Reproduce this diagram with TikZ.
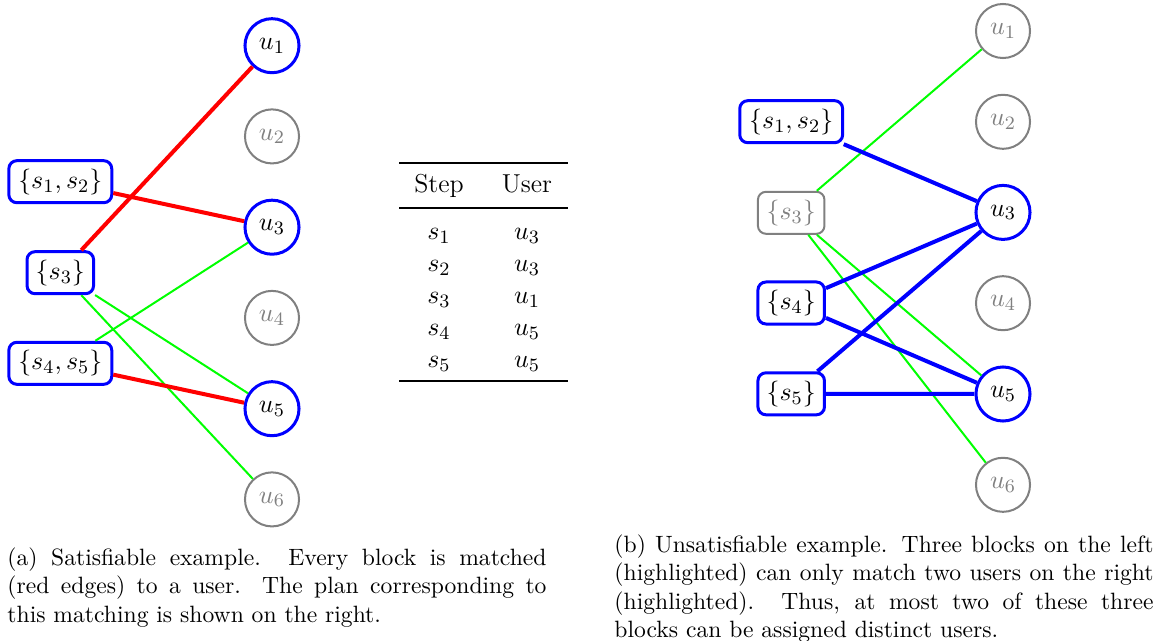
\documentclass[tikz,border=0pt]{standalone}
\newcommand\fgfont{\fontsize{11}{13}\selectfont}
\newcommand\capfont{\fontsize{10}{12}\selectfont}
\tikzset{
  ublue/.style={circle, draw=blue, line width=1.27pt, minimum size=22.9pt, inner sep=0pt, font=\fgfont},
  ugray/.style={circle, draw=gray, text=gray, line width=0.85pt, minimum size=22.9pt, inner sep=0pt, font=\fgfont},
  bblue/.style={rectangle, rounded corners=3.4pt, draw=blue, line width=1.27pt, minimum height=17.8pt, inner sep=0pt, font=\fgfont},
  bgray/.style={rectangle, rounded corners=3.4pt, draw=gray, text=gray, line width=0.85pt, minimum height=17.8pt, inner sep=0pt, font=\fgfont},
  widebox/.style={minimum width=43.6pt},
  narrowbox/.style={minimum width=28.2pt},
  matchedge/.style={draw=red, line width=1.7pt},
  halledge/.style={draw=blue, line width=1.7pt},
  otheredge/.style={draw=green, line width=0.85pt},
  cell/.style={anchor=base, inner sep=0pt, font=\fgfont},
  toprule/.style={line width=1.2pt},
  midrule/.style={line width=0.8pt},
  captext/.style={anchor=north west, inner sep=0pt, text width=228.4pt, align=justify, font=\capfont},
}
\begin{document}
\begin{tikzpicture}[x=0.4237pt, y=-0.4237pt]
\path[use as bounding box] (0,0) rectangle (1162,641);

% ---------- panel (a) ----------
\node[ublue] (ua1) at (272,45.7) {$u_1$};
\node[ugray] (ua2) at (272,136.4) {$u_2$};
\node[ublue] (ua3) at (272,227.2) {$u_3$};
\node[ugray] (ua4) at (272,317.9) {$u_4$};
\node[ublue] (ua5) at (272,408.7) {$u_5$};
\node[ugray] (ua6) at (272,499.4) {$u_6$};

\node[bblue, widebox] (sa12) at (60.3,181.7) {$\{s_1, s_2\}$};
\node[bblue, narrowbox] (sa3) at (60.3,272.7) {$\{s_3\}$};
\node[bblue, widebox] (sa45) at (60.3,363.3) {$\{s_4, s_5\}$};

\draw[otheredge] (sa3) -- (ua5);
\draw[otheredge] (sa3) -- (ua6);
\draw[otheredge] (sa45) -- (ua3);
\draw[matchedge] (sa3) -- (ua1);
\draw[matchedge] (sa12) -- (ua3);
\draw[matchedge] (sa45) -- (ua5);

% ---------- table ----------
\coordinate (tl) at (399,163);
\coordinate (tr) at (568,163);
\coordinate (ml) at (399,208);
\coordinate (mr) at (568,208);
\coordinate (bl) at (399,381);
\coordinate (br) at (568,381);
\draw[toprule] (tl) -- (tr);
\draw[midrule] (ml) -- (mr);
\draw[toprule] (bl) -- (br);
\node[cell] (hstep) at (439,193) {Step};
\node[cell] (huser) at (527,193) {User};
\node[cell] (r1a) at (439,239.5) {$s_1$};
\node[cell] (r1b) at (527,239.5) {$u_3$};
\node[cell] (r2a) at (439,271.6) {$s_2$};
\node[cell] (r2b) at (527,271.6) {$u_3$};
\node[cell] (r3a) at (439,303.7) {$s_3$};
\node[cell] (r3b) at (527,303.7) {$u_1$};
\node[cell] (r4a) at (439,335.8) {$s_4$};
\node[cell] (r4b) at (527,335.8) {$u_5$};
\node[cell] (r5a) at (439,367.9) {$s_5$};
\node[cell] (r5b) at (527,367.9) {$u_5$};

% ---------- panel (b) ----------
\node[ugray] (ub1) at (1003,31) {$u_1$};
\node[ugray] (ub2) at (1003,121.8) {$u_2$};
\node[ublue] (ub3) at (1003,212.4) {$u_3$};
\node[ugray] (ub4) at (1003,303.2) {$u_4$};
\node[ublue] (ub5) at (1003,394) {$u_5$};
\node[ugray] (ub6) at (1003,484.8) {$u_6$};

\node[bblue, widebox] (sb12) at (791.2,121.7) {$\{s_1, s_2\}$};
\node[bgray, narrowbox] (sb3) at (791.2,212.8) {$\{s_3\}$};
\node[bblue, narrowbox] (sb4) at (791.2,303) {$\{s_4\}$};
\node[bblue, narrowbox] (sb5) at (791.2,393.8) {$\{s_5\}$};

\draw[otheredge] (sb3) -- (ub1);
\draw[otheredge] (sb3) -- (ub5);
\draw[otheredge] (sb3) -- (ub6);
\draw[halledge] (sb12) -- (ub3);
\draw[halledge] (sb4) -- (ub3);
\draw[halledge] (sb4) -- (ub5);
\draw[halledge] (sb5) -- (ub3);
\draw[halledge] (sb5) -- (ub5);

% ---------- captions ----------
\node[captext] (capa) at (7,547.3) {(a) Satisfiable example.  Every block is matched\linebreak (red edges) to a user.  The plan corresponding to\linebreak this matching is shown on the right.};
\node[captext] (capb) at (614,534.3) {(b) Unsatisfiable example. Three blocks on the left\linebreak (highlighted) can only match two users on the right\linebreak (highlighted).  Thus, at most two of these three\linebreak blocks can be assigned distinct users.};
\end{tikzpicture}
\end{document}
